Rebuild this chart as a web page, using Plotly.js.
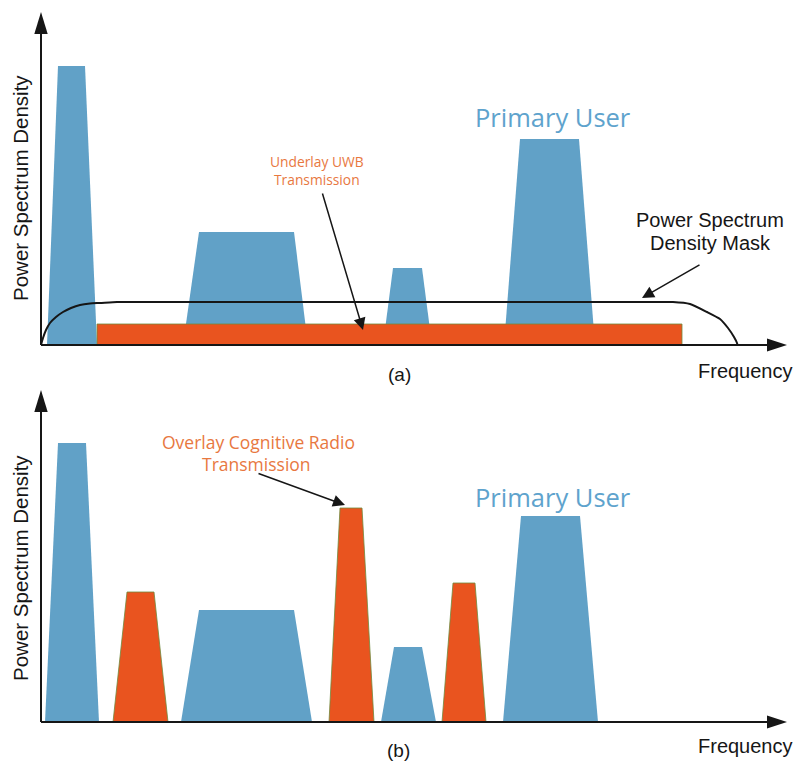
<!DOCTYPE html>
<html>
<head>
<meta charset="utf-8">
<script src="https://cdn.plot.ly/plotly-3.0.1.min.js"></script>
<style>html,body{margin:0;padding:0;background:#fff;}#chart{width:796px;height:763px;}</style>
</head>
<body>
<div id="chart"></div>
<script>
// ---------- Panel (a): underlay ----------
// primary-user trapezoids: base-left, top-left, top-right, base-right, height
const puA_baseL = [6, 142, 342, 463];
const puA_topL  = [17, 158, 352, 479];
const puA_topR  = [44, 253, 381, 538];
const puA_baseR = [56, 267, 391, 554];
const puA_h     = [279, 113, 77, 206];
// underlay UWB transmission band
const uwb_from = 56, uwb_to = 641, uwb_level = 21;
// power spectrum density mask
const mask_x = [0, 2, 5, 9, 15, 22, 30, 39, 49, 59, 76, 100, 140, 600, 620, 632, 649, 666, 679, 687, 693, 696, 696.5];
const mask_y = [0, 7, 15, 22, 28, 33, 37, 40, 41.5, 42, 43, 43, 43, 43, 43, 43, 41, 33, 26, 17, 8, 2, 0];

// ---------- Panel (b): overlay ----------
const puB_baseL = [4, 140, 340, 462];
const puB_topL  = [17, 158, 353, 480];
const puB_topR  = [45, 253, 381, 539];
const puB_baseR = [58, 271, 395, 557];
const puB_h     = [279, 112, 75, 206];
const crB_baseL = [72, 288, 401];
const crB_topL  = [86, 299, 412];
const crB_topR  = [113, 321, 434];
const crB_baseR = [127, 333, 445];
const crB_h     = [130, 214, 139];

// axis extents
const axisA_top = 333, axisB_top = 332, axis_right = 746;

const BLUE = '#61a1c7', ORANGE = '#e9541f', EDGE = '#6e8a3e';
const TXT_BLUE = '#5ea3cd', TXT_OR = '#e8783f', BLACK = '#161616';

function trap(bl, tl, tr, br, h, xa, ya, color, edge) {
  return {
    x: [bl, tl, tr, br, bl], y: [0, h, h, 0, 0], xaxis: xa, yaxis: ya,
    type: 'scatter', mode: 'lines', fill: 'toself', fillcolor: color,
    line: edge ? {color: edge, width: 0.8} : {width: 0, color: color},
    hoverinfo: 'skip', showlegend: false
  };
}

const traces = [];
for (let i = 0; i < puA_h.length; i++) traces.push(trap(puA_baseL[i], puA_topL[i], puA_topR[i], puA_baseR[i], puA_h[i], 'x', 'y', BLUE));
traces.push({
  x: [uwb_from, uwb_from, uwb_to, uwb_to, uwb_from], y: [0, uwb_level, uwb_level, 0, 0],
  xaxis: 'x', yaxis: 'y', type: 'scatter', mode: 'lines', fill: 'toself', fillcolor: ORANGE,
  line: {color: EDGE, width: 0.8}, hoverinfo: 'skip', showlegend: false
});
traces.push({
  x: mask_x, y: mask_y, xaxis: 'x', yaxis: 'y', type: 'scatter', mode: 'lines',
  line: {color: BLACK, width: 2, shape: 'spline', smoothing: 0.5}, hoverinfo: 'skip', showlegend: false
});
for (let i = 0; i < puB_h.length; i++) traces.push(trap(puB_baseL[i], puB_topL[i], puB_topR[i], puB_baseR[i], puB_h[i], 'x2', 'y2', BLUE));
for (let i = 0; i < crB_h.length; i++) traces.push(trap(crB_baseL[i], crB_topL[i], crB_topR[i], crB_baseR[i], crB_h[i], 'x2', 'y2', ORANGE, EDGE));

// axis arrows (line + filled head)
function axisShapes(xr, yr, yTop) {
  const hl = 22, hw = 6.7, hlx = 20, hwx = 6.5;
  return [
    {type: 'line', xref: xr, yref: yr, x0: 0, y0: 0, x1: 0, y1: yTop - hl + 2, line: {color: BLACK, width: 2}},
    {type: 'line', xref: xr, yref: yr, x0: 0, y0: 0, x1: axis_right - hlx + 2, y1: 0, line: {color: BLACK, width: 2}},
    {type: 'path', xref: xr, yref: yr, path: `M${-hw},${yTop - hl} L${hw},${yTop - hl} L0,${yTop} Z`, fillcolor: BLACK, line: {width: 0}},
    {type: 'path', xref: xr, yref: yr, path: `M${axis_right - hlx},${hwx} L${axis_right - hlx},${-hwx} L${axis_right},0 Z`, fillcolor: BLACK, line: {width: 0}}
  ];
}

function txt(text, x, y, xr, yr, font, extra) {
  return Object.assign({text: text, x: x, y: y, xref: xr, yref: yr, showarrow: false,
    xanchor: 'center', yanchor: 'middle', font: font}, extra || {});
}
const fBlack = {family: 'Liberation Sans, Arial, sans-serif', size: 20, color: BLACK};
const fBlue = {family: 'Open Sans, sans-serif', size: 25.5, color: TXT_BLUE};
const fOrA = {family: 'Open Sans, sans-serif', size: 13.8, color: TXT_OR};
const fOrB = {family: 'Open Sans, sans-serif', size: 17.5, color: TXT_OR};

function pointer(xh, yh, xt, yt, xr, yr) {
  return {x: xh, y: yh, ax: xt, ay: yt, xref: xr, yref: yr, axref: xr, ayref: yr,
    showarrow: true, arrowhead: 2, arrowsize: 1.6, arrowwidth: 1.5, arrowcolor: BLACK, standoff: 0, startstandoff: 0, text: ''};
}

const annotations = [
  // panel a
  txt('Power Spectrum Density', -21, 157, 'x', 'y', Object.assign({}, fBlack, {size: 20.5}), {textangle: -90}),
  txt('Primary User', 512, 228, 'x', 'y', fBlue),
  txt('Underlay UWB', 276, 184, 'x', 'y', fOrA),
  txt('Transmission', 276, 166, 'x', 'y', fOrA),
  pointer(322, 15, 281, 153, 'x', 'y'),
  txt('Power Spectrum', 669, 125, 'x', 'y', fBlack),
  txt('Density Mask', 669, 102, 'x', 'y', fBlack),
  pointer(601, 47, 660, 81, 'x', 'y'),
  txt('(a)', 358, -29, 'x', 'y', Object.assign({}, fBlack, {size: 19})),
  txt('Frequency', 704, -26, 'x', 'y', fBlack),
  // panel b
  txt('Power Spectrum Density', -21, 154, 'x2', 'y2', Object.assign({}, fBlack, {size: 20.5}), {textangle: -90}),
  txt('Primary User', 512, 225, 'x2', 'y2', fBlue),
  txt('Overlay Cognitive Radio', 217, 280, 'x2', 'y2', fOrB),
  txt('Transmission', 215, 258, 'x2', 'y2', fOrB),
  pointer(304, 217, 216, 249, 'x2', 'y2'),
  txt('(b)', 357, -28, 'x2', 'y2', Object.assign({}, fBlack, {size: 19})),
  txt('Frequency', 704, -24, 'x2', 'y2', fBlack)
];

const hidden = {visible: false, showgrid: false, zeroline: false, fixedrange: true};
const split = 1 - 385 / 763;
const layout = {
  width: 796, height: 763,
  margin: {l: 0, r: 0, t: 0, b: 0, pad: 0},
  paper_bgcolor: '#ffffff', plot_bgcolor: '#ffffff',
  showlegend: false,
  xaxis: Object.assign({}, hidden, {range: [-41, 755], domain: [0, 1], anchor: 'y'}),
  yaxis: Object.assign({}, hidden, {range: [-40, 345], domain: [split, 1], anchor: 'x'}),
  xaxis2: Object.assign({}, hidden, {range: [-41, 755], domain: [0, 1], anchor: 'y2'}),
  yaxis2: Object.assign({}, hidden, {range: [-41, 337], domain: [0, split], anchor: 'x2'}),
  shapes: axisShapes('x', 'y', axisA_top).concat(axisShapes('x2', 'y2', axisB_top)),
  annotations: annotations
};

Plotly.newPlot('chart', traces, layout, {staticPlot: true, displayModeBar: false});
</script>
</body>
</html>
